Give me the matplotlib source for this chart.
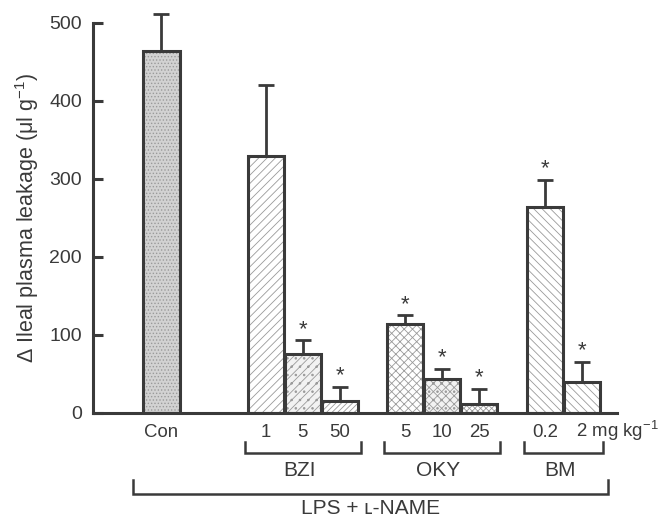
import matplotlib
matplotlib.use("Agg")
import matplotlib.pyplot as plt
from matplotlib.transforms import blended_transform_factory

plt.rcParams['font.family'] = ['Liberation Sans', 'DejaVu Sans']
plt.rcParams['mathtext.default'] = 'regular'
plt.rcParams['hatch.linewidth'] = 0.6

# data
group_names = ["BZI", "OKY", "BM"]
dose_labels = ["Con", "1", "5", "50", "5", "10", "25", "0.2", "2"]
group_of = [0, 1, 1, 1, 2, 2, 2, 3, 3]
leakage = [464, 330, 76, 15, 114, 44, 12, 264, 40]
sem = [47, 91, 17, 18, 11, 13, 19, 35, 26]
significant = [False, False, True, True, True, True, True, True, True]

INK = '#3a3a3a'
HATCH_INK = '#9a9a9a'
faces = ['#d2d2d2', 'white', '#f2f2f2', 'white', 'white', '#f2f2f2', 'white', 'white', 'white']
hatches = ['.....', '////', '////..', '//////', 'xxxx', 'xxxx..', 'xxxxxx', '\\\\\\\\', '\\\\\\\\']

# bar positions: groups separated by gaps, bars inside a group touch
group_start = [0.0, 2.82, 6.58, 10.36]
pos = []
for i, g in enumerate(group_of):
    pos.append(group_start[g] + group_of[:i].count(g))

fig = plt.figure(figsize=(6.58, 5.2), dpi=100)
ax = fig.add_axes([0.1413, 0.2058, 0.7964, 0.75])

bars = ax.bar(pos, leakage, width=0.98, color=faces, edgecolor=HATCH_INK, linewidth=0, zorder=2)
for b, h in zip(bars, hatches):
    b.set_hatch(h)
ax.bar(pos, leakage, width=0.98, fill=False, edgecolor=INK, linewidth=2.2, zorder=3)

eb = ax.errorbar(pos, leakage, yerr=[[0] * len(sem), sem], fmt='none', ecolor=INK,
                 elinewidth=2.0, capsize=6, capthick=2.0, zorder=1)
for art in list(eb.lines[1]) + list(eb.lines[2]):
    art.set_clip_on(False)

for x, v, e, s in zip(pos, leakage, sem, significant):
    if s:
        ax.annotate("*", xy=(x, v + e), xytext=(0, 8), textcoords='offset points',
                    ha='center', va='center', fontsize=16, color=INK)

ax.set_xlim(-1.85, 12.31)
ax.set_ylim(0, 500)
ax.set_yticks([0, 100, 200, 300, 400, 500])
ax.tick_params(axis='y', direction='in', length=7.5, width=2.2, colors=INK,
               labelsize=14, pad=8)
ax.set_xticks([])
for side in ['top', 'right']:
    ax.spines[side].set_visible(False)
for side in ['left', 'bottom']:
    ax.spines[side].set_linewidth(2.2)
    ax.spines[side].set_color(INK)
    ax.spines[side].set_capstyle('projecting')

fig.text(0.041, 0.581, r"$\Delta$ Ileal plasma leakage ($\mu$l g$^{-1}$)", rotation=90,
         ha='center', va='center', fontsize=15.5, color=INK)

trans = blended_transform_factory(ax.transData, fig.transFigure)

# dose labels under the bars
for i, (x, lab) in enumerate(zip(pos, dose_labels)):
    if i == len(pos) - 1:
        ax.text(x - 0.16, 0.1596, lab + r" mg kg$^{-1}$", transform=trans, ha='left',
                va='baseline', fontsize=13.4, color=INK)
    else:
        ax.text(x, 0.1596, lab, transform=trans, ha='center', va='baseline',
                fontsize=13.4, color=INK)


def bracket(x0, x1, y_top, y_bot):
    ax.plot([x0, x0, x1, x1], [y_top, y_bot, y_bot, y_top], transform=trans,
            color=INK, lw=1.8, clip_on=False, solid_joinstyle='miter')


for g, name in enumerate(group_names, start=1):
    xs = [p for p, gg in zip(pos, group_of) if gg == g]
    bracket(xs[0] - 0.56, xs[-1] + 0.56, 0.150, 0.1288)
    ax.text(sum(xs) / len(xs) - 0.1, 0.0837, name, transform=trans, ha='center',
            va='baseline', fontsize=15, color=INK)

bracket(pos[0] - 0.77, pos[-1] + 0.71, 0.0769, 0.050)
ax.text((pos[0] - 0.77 + pos[-1] + 0.71) / 2, 0.012, "LPS + \u029f-NAME", transform=trans,
        ha='center', va='baseline', fontsize=15, color=INK)

fig.savefig("out.png", dpi=100)
